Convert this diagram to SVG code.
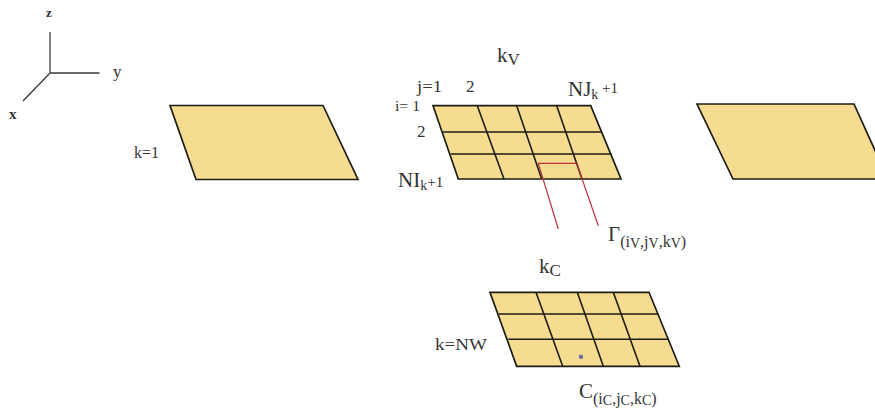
<svg xmlns="http://www.w3.org/2000/svg" width="875" height="410" viewBox="0 0 875 410">
<style>
.plane{fill:#f5dc90;stroke:#1c1c14;stroke-width:1.7;stroke-linejoin:miter}
.grid{stroke:#1c1c14;stroke-width:1.6;fill:none}
.axis{stroke:#3a3a3a;stroke-width:1.3;fill:none}
.red{stroke:#b8333a;stroke-width:1.2;fill:none}
text{font-family:"Liberation Serif","Times New Roman",serif;fill:#333}
.m{font-size:16px}
.b{font-size:21px}
.u{font-size:16px}
.v{font-size:14px}
</style>
<rect width="875" height="410" fill="#fff"/>
<g id="axes">
<path class="axis" d="M50 32V73H99.5M50 73L23 101"/>
<text x="46" y="17" font-size="13" font-weight="bold">z</text>
<text x="113" y="77" font-size="17">y</text>
<text x="9" y="119" font-size="15" font-weight="bold">x</text>
</g>
<g id="plane-k1">
<path class="plane" d="M170 105.5H323L358 179.5H196Z"/>
<text class="m" x="134" y="158">k=1</text>
</g>
<g id="plane-kv">
<path class="plane" d="M433 105.7H590.7L621 179H458.3Z"/>
<text class="b" x="497" y="62">k<tspan font-size="17" dy="3">V</tspan></text>
<text x="417" y="92" font-size="17" textLength="25" lengthAdjust="spacingAndGlyphs">j=1</text>
<text x="466" y="92" font-size="17">2</text>
<text class="b" x="568" y="96">NJ<tspan font-size="14" dy="3">k</tspan><tspan font-size="15" dy="-6"> +1</tspan></text>
<text x="395" y="111" font-size="15" textLength="25" lengthAdjust="spacingAndGlyphs">i= 1</text>
<text x="417" y="137" font-size="17">2</text>
<text class="b" x="398" y="187">NI<tspan font-size="14" dy="3">k</tspan><tspan font-size="15" dy="-3">+1</tspan></text>
<path class="grid" d="M442.7 132H601.7M450.7 154H611.7M477.3 105.7L504 179M516.7 105.7L541.7 179M556.7 105.7L582 179"/>
</g>
<g id="plane-right">
<path class="plane" d="M697 104H854L888 179H733Z"/>
</g>
<g id="plane-kc">
<path class="plane" d="M490 292.3H649L679.3 366.3H516.7Z"/>
<text class="b" x="539" y="273">k<tspan font-size="17" dy="3">C</tspan></text>
<text x="435" y="350" font-size="17" textLength="52" lengthAdjust="spacingAndGlyphs">k=NW</text>
<path class="grid" d="M499 314H658.7M508.3 339.3H668.3M536 292.3L562.7 366.3M577.3 292.3L603.3 366.3M613.3 292.3L640 366.3"/>
<circle cx="581" cy="356.7" r="2.2" fill="#6a6fa8"/>
<text class="b" x="579" y="398">C<tspan class="u" dy="6">(i</tspan><tspan class="v" dy="1">C</tspan><tspan class="u" dy="-1">,j</tspan><tspan class="v" dy="1">C</tspan><tspan class="u" dy="-1">,k</tspan><tspan class="v" dy="1">C</tspan><tspan class="u" dy="-1">)</tspan></text>
</g>
<g id="connectors">
<path class="red" d="M558.3 229L538.3 163.3H576.7L598.3 225.7"/>
<text class="b" x="608" y="241">Γ<tspan class="u" dy="6">(i</tspan><tspan class="v" dy="1">V</tspan><tspan class="u" dy="-1">,j</tspan><tspan class="v" dy="1">V</tspan><tspan class="u" dy="-1">,k</tspan><tspan class="v" dy="1">V</tspan><tspan class="u" dy="-1">)</tspan></text>
</g>
</svg>
